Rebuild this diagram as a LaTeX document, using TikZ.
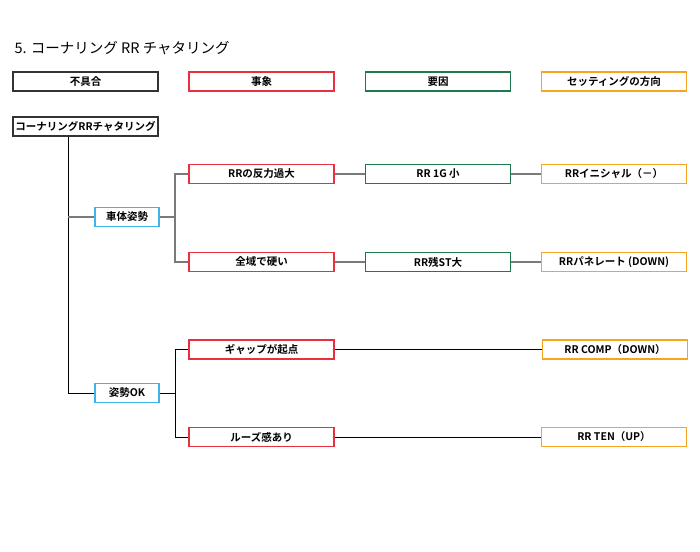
\documentclass[tikz,border=0pt]{standalone}
\usepackage{fontspec}
\setmainfont{Noto Sans CJK JP}[BoldFont={Noto Sans CJK JP Bold}]
\usepackage{xcolor}
\usepackage{tikz}
\usetikzlibrary{positioning}

\definecolor{boxblack}{HTML}{333333}
\definecolor{boxred}{HTML}{E8313F}
\definecolor{boxgreen}{HTML}{1E7A4C}
\definecolor{boxblue}{HTML}{40B4EA}
\definecolor{boxorange}{HTML}{F6A522}
\definecolor{linegray}{HTML}{7A7A7A}

\begin{document}
\begin{tikzpicture}[x=1pt,y=-1pt,
  box/.style={draw, line width=1.1pt, fill=white, minimum width=145pt, minimum height=19pt,
    inner sep=0pt, font=\bfseries\fontsize{10.5}{11}\selectfont},
  fuguai/.style={box, draw=boxblack},
  jisho/.style={box, draw=boxred},
  youin/.style={box, draw=boxgreen},
  houkou/.style={box, draw=boxorange},
  kubun/.style={box, draw=boxblue, minimum width=64pt},
  grayline/.style={draw=linegray, line width=1.8pt},
  thinline/.style={draw=black, line width=0.9pt}]
\useasboundingbox (0,0) rectangle (700,551);

\node[anchor=west, font=\fontsize{14.5}{16}\selectfont] (title) at (11,48) {5. コーナリング RR チャタリング};

% header row
\node[fuguai] (h1) at (85.5,81.5) {不具合};
\node[jisho]  (h2) at (261.5,81.5) {事象};
\node[youin]  (h3) at (438,81.5) {要因};
\node[houkou] (h4) at (614,81.5) {セッティングの方向};

% tree
\node[fuguai] (root) at (85.5,126.5) {コーナリングRRチャタリング};
\node[kubun] (shatai) at (127,217) {車体姿勢};
\node[kubun] (kaisei) at (127,393) {姿勢OK};

\node[jisho] (hanryoku) at (261.5,174) {RRの反力過大};
\node[jisho] (zeniki) at (261.5,262) {全域で硬い};
\node[jisho] (gap) at (261.5,349.5) {ギャップが起点};
\node[jisho] (loose) at (261.5,437) {ルーズ感あり};

\node[youin] (oneg) at (438,174) {RR 1G 小};
\node[youin] (zanst) at (438,262) {RR残ST大};

\node[houkou] (initial) at (614,174) {RRイニシャル（－）};
\node[houkou] (panel) at (614,262) {RRパネレート (DOWN)};
\node[houkou] (comp) at (615,349.5) {RR COMP（DOWN）};
\node[houkou] (ten) at (614,437) {RR TEN（UP）};

\coordinate (trunk) at (68,0);
\coordinate (j1) at (175,217);
\coordinate (j2) at (175,393);

\path[thinline] (root.south -| trunk) |- (kaisei);
\path[grayline] (shatai.west -| trunk) -- (shatai);

\path[grayline] (shatai) -- (j1) |- (hanryoku);
\path[grayline] (j1) |- (zeniki);
\path[grayline] (hanryoku) -- (oneg) -- (initial);
\path[grayline] (zeniki) -- (zanst) -- (panel);

\path[thinline] (kaisei) -- (j2) |- (gap);
\path[thinline] (j2) |- (loose);
\path[thinline] (gap) -- (comp);
\path[thinline] (loose) -- (ten);
\end{tikzpicture}
\end{document}
